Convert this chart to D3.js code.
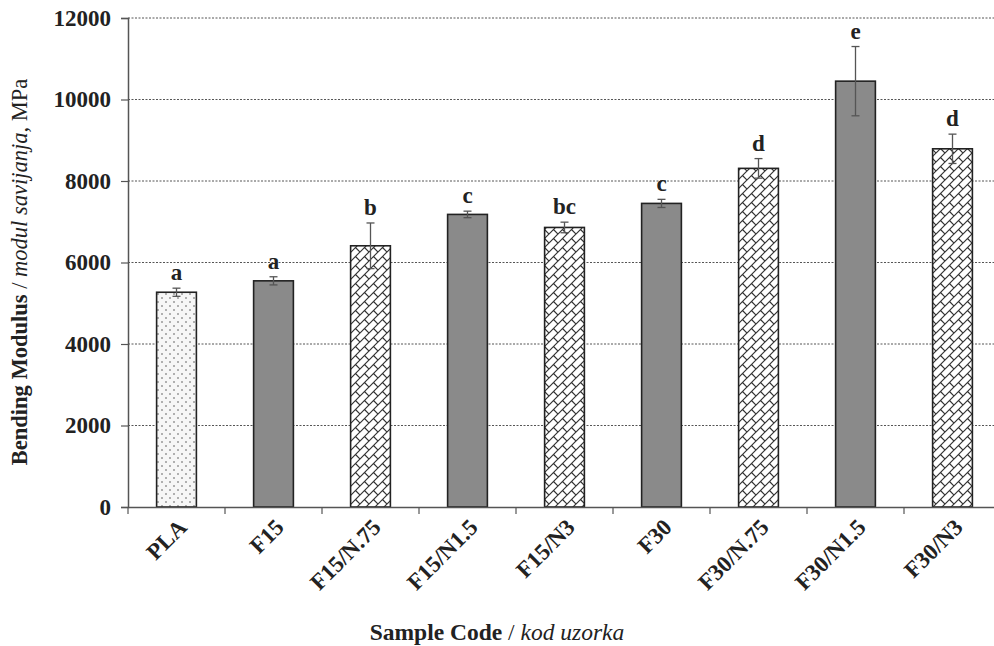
<!DOCTYPE html>
<html><head><meta charset="utf-8">
<script src="https://cdn.jsdelivr.net/npm/d3@7"></script>
<style>body{margin:0;background:#fff}svg{display:block}</style>
</head><body>
<svg id="c" width="994" height="646"></svg>
<script>
const categories = ["PLA","F15","F15/N.75","F15/N1.5","F15/N3","F30","F30/N.75","F30/N1.5","F30/N3"];
const values = [5270, 5550, 6410, 7180, 6860, 7450, 8310, 10450, 8790];
const errors = [100, 100, 560, 80, 130, 100, 240, 850, 360];
const letters = ["a","a","b","c","bc","c","d","e","d"];
const fills = ["dots","grey","brick","grey","brick","grey","brick","grey","brick"];
const yTicks = [0,2000,4000,6000,8000,10000,12000];

const svg = d3.select("#c");
const font = "'Liberation Serif','Times New Roman',serif";
const m = {l:128, t:18, b:507, r:1001};
const x = d3.scaleBand().domain(categories).range([m.l, m.r]).paddingInner(0.59).paddingOuter(0.295);
const y = d3.scaleLinear().domain([0,12000]).range([m.b, m.t]);

const defs = svg.append("defs");
const pd = defs.append("pattern").attr("id","dots").attr("patternUnits","userSpaceOnUse").attr("width",8).attr("height",8);
pd.append("rect").attr("width",8).attr("height",8).attr("fill","#f6f6f6");
pd.append("circle").attr("cx",2).attr("cy",2).attr("r",0.8).attr("fill","#555");
pd.append("circle").attr("cx",6).attr("cy",6).attr("r",0.8).attr("fill","#555");
const pb = defs.append("pattern").attr("id","brick").attr("patternUnits","userSpaceOnUse").attr("width",9).attr("height",9);
pb.append("rect").attr("width",9).attr("height",9).attr("fill","#fff");
pb.append("path").attr("d","M-1,10 L10,-1 M-1,1 L1,-1 M8,10 L10,8 M4.5,4.5 L9,9")
  .attr("stroke","#333").attr("stroke-width",1.2).attr("fill","none");

// gridlines
svg.append("g").selectAll("line").data(yTicks.filter(d=>d>0)).join("line")
  .attr("x1",m.l).attr("x2",m.r).attr("y1",d=>y(d)).attr("y2",d=>y(d))
  .attr("stroke","#555").attr("stroke-width",1).attr("stroke-dasharray","2,1.5");

// y axis
const ya = svg.append("g").attr("transform",`translate(${m.l},0)`)
  .call(d3.axisLeft(y).tickValues(yTicks).tickSize(7).tickPadding(10).tickFormat(d3.format("d")));
ya.select(".domain").attr("stroke","#555").attr("stroke-width",1.5);
ya.selectAll(".tick line").attr("stroke","#555").attr("stroke-width",1.2);
ya.selectAll("text").attr("font-family",font).attr("font-weight","bold").attr("font-size",23).attr("fill","#222");

// bars
const bw = x.bandwidth();
svg.append("g").selectAll("rect").data(categories).join("rect")
  .attr("x",d=>x(d)).attr("width",bw)
  .attr("y",(d,i)=>y(values[i])).attr("height",(d,i)=>y(0)-y(values[i]))
  .attr("fill",(d,i)=>fills[i]==="grey"?"#8a8a8a":`url(#${fills[i]})`)
  .attr("stroke","#222").attr("stroke-width",1.6);

// error bars
const eg = svg.append("g").attr("stroke","#555").attr("stroke-width",1.3);
categories.forEach((c,i)=>{
  const cx = x(c)+bw/2;
  eg.append("line").attr("x1",cx).attr("x2",cx).attr("y1",y(values[i]+errors[i])).attr("y2",y(values[i]-errors[i]));
  eg.append("line").attr("x1",cx-4).attr("x2",cx+4).attr("y1",y(values[i]+errors[i])).attr("y2",y(values[i]+errors[i]));
  eg.append("line").attr("x1",cx-4).attr("x2",cx+4).attr("y1",y(values[i]-errors[i])).attr("y2",y(values[i]-errors[i]));
});

// letters
svg.append("g").selectAll("text").data(categories).join("text")
  .attr("x",d=>x(d)+bw/2).attr("y",(d,i)=>y(values[i]+errors[i])-8)
  .attr("text-anchor","middle").attr("font-family",font).attr("font-weight","bold").attr("font-size",23).attr("fill","#222")
  .text((d,i)=>letters[i]);

// x axis
const xa = svg.append("g").attr("transform",`translate(0,${m.b})`)
  .call(d3.axisBottom(x).tickSize(0).tickFormat(""));
xa.select(".domain").attr("stroke","#555").attr("stroke-width",1.5);
const bandStep = x.step();
svg.append("g").selectAll("line").data(d3.range(categories.length+1)).join("line")
  .attr("x1",i=>m.l+i*bandStep).attr("x2",i=>m.l+i*bandStep).attr("y1",m.b).attr("y2",m.b+7)
  .attr("stroke","#555").attr("stroke-width",1.2);
svg.append("g").selectAll("text").data(categories).join("text")
  .attr("transform",d=>`translate(${x(d)+bw/2+6},${m.b+16}) rotate(-45)`)
  .attr("text-anchor","end").attr("dy","0.35em")
  .attr("font-family",font).attr("font-weight","bold").attr("font-size",23).attr("fill","#222")
  .text(d=>d);

// axis titles
const yt = svg.append("text").attr("transform","translate(27,272) rotate(-90)").attr("text-anchor","middle")
  .attr("font-family",font).attr("font-size",22.5).attr("fill","#222");
yt.append("tspan").attr("font-weight","bold").text("Bending Modulus");
yt.append("tspan").text(" / ");
yt.append("tspan").attr("font-style","italic").text("modul savijanja");
yt.append("tspan").text(", MPa");

const xt = svg.append("text").attr("x",497).attr("y",640).attr("text-anchor","middle")
  .attr("font-family",font).attr("font-size",23.5).attr("fill","#222");
xt.append("tspan").attr("font-weight","bold").text("Sample Code");
xt.append("tspan").text(" / ");
xt.append("tspan").attr("font-style","italic").text("kod uzorka");
</script>
</body></html>
